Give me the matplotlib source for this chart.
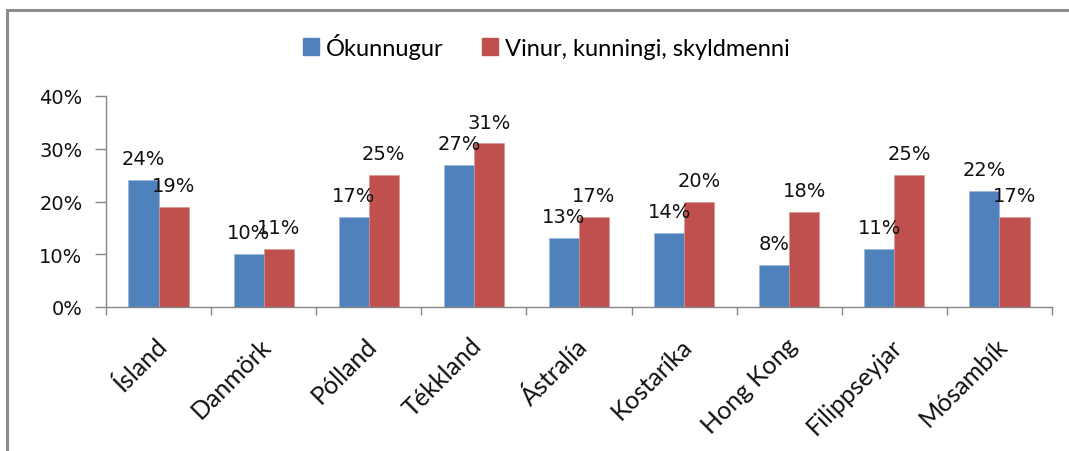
import matplotlib
matplotlib.use("Agg")
import matplotlib.pyplot as plt
import matplotlib.transforms as mtransforms
from matplotlib.lines import Line2D
from matplotlib.patches import Patch
import numpy as np

COUNTRIES = ["Ísland", "Danmörk", "Pólland", "Tékkland", "Ástralía",
             "Kostaríka", "Hong Kong", "Filippseyjar", "Mósambík"]
STRANGER = [24, 10, 17, 27, 13, 14, 8, 11, 22]
FRIEND = [19, 11, 25, 31, 17, 20, 18, 25, 17]
SERIES_NAMES = ["Ókunnugur", "Vinur, kunningi, skyldmenni"]
Y_TICKS = [0, 10, 20, 30, 40]

BLUE = "#4F81BD"
RED = "#C0504D"
GRAY = "#868686"

fig = plt.figure(figsize=(10.69, 4.52), dpi=100)
ax = fig.add_axes([106 / 1069, 1 - 308 / 452, (1052 - 106) / 1069, (308 - 97) / 452])

x = np.arange(len(COUNTRIES))
w = 0.286
bars_a = ax.bar(x - w / 2, STRANGER, w, color=BLUE, edgecolor="#9db6d9", linewidth=0.4)
bars_b = ax.bar(x + w / 2, FRIEND, w, color=RED, edgecolor="#d99391", linewidth=0.4)

for bars, vals in ((bars_a, STRANGER), (bars_b, FRIEND)):
    for b, v in zip(bars, vals):
        ax.annotate(f"{v}%", (b.get_x() + b.get_width() / 2, v),
                    xytext=(0, 11.5), textcoords="offset points",
                    ha="center", va="baseline", fontsize=14,
                    family="DejaVu Sans", color="#111111")

ax.set_xlim(-0.5, len(COUNTRIES) - 0.5)
ax.set_ylim(0, 40)
ax.set_yticks(Y_TICKS)
ax.set_yticklabels([f"{t}%" for t in Y_TICKS], fontsize=14, family="DejaVu Sans", color="#111111")
ax.tick_params(axis="y", length=8, width=1, color=GRAY, pad=9)

ax.set_xticks(np.arange(-0.5, len(COUNTRIES), 1.0))
ax.set_xticklabels([])
ax.tick_params(axis="x", which="major", length=6, width=1, color=GRAY)
ax.set_xticks(x, minor=True)
ax.set_xticklabels(COUNTRIES, minor=True, rotation=45, ha="right",
                   rotation_mode="anchor", fontsize=18, family="Lato", color="#111111")
ax.tick_params(axis="x", which="minor", length=0, pad=19)
offset = mtransforms.ScaledTranslation(-4 / 100, 0, fig.dpi_scale_trans)
for lab in ax.get_xticklabels(minor=True):
    lab.set_transform(lab.get_transform() + offset)

for side in ("top", "right"):
    ax.spines[side].set_visible(False)
for side in ("left", "bottom"):
    ax.spines[side].set_color(GRAY)
    ax.spines[side].set_linewidth(1)

handles = [Patch(color=BLUE), Patch(color=RED)]
fig.legend(handles, SERIES_NAMES, loc="center", bbox_to_anchor=(0.511, 1 - 47 / 452),
           ncol=2, frameon=False, prop={"family": "Lato", "size": 17},
           handlelength=0.7, handleheight=0.7, handletextpad=0.3, columnspacing=1.6)

# chart-area border (only top and left edges visible in the original crop)
fig.add_artist(Line2D([7 / 1069, 1], [1 - 11 / 452, 1 - 11 / 452], color="#8c8c8c", lw=2.2,
                      transform=fig.transFigure))
fig.add_artist(Line2D([7 / 1069, 7 / 1069], [0, 1 - 11 / 452], color="#8c8c8c", lw=2.2,
                      transform=fig.transFigure))

fig.savefig("out.png", dpi=100)
